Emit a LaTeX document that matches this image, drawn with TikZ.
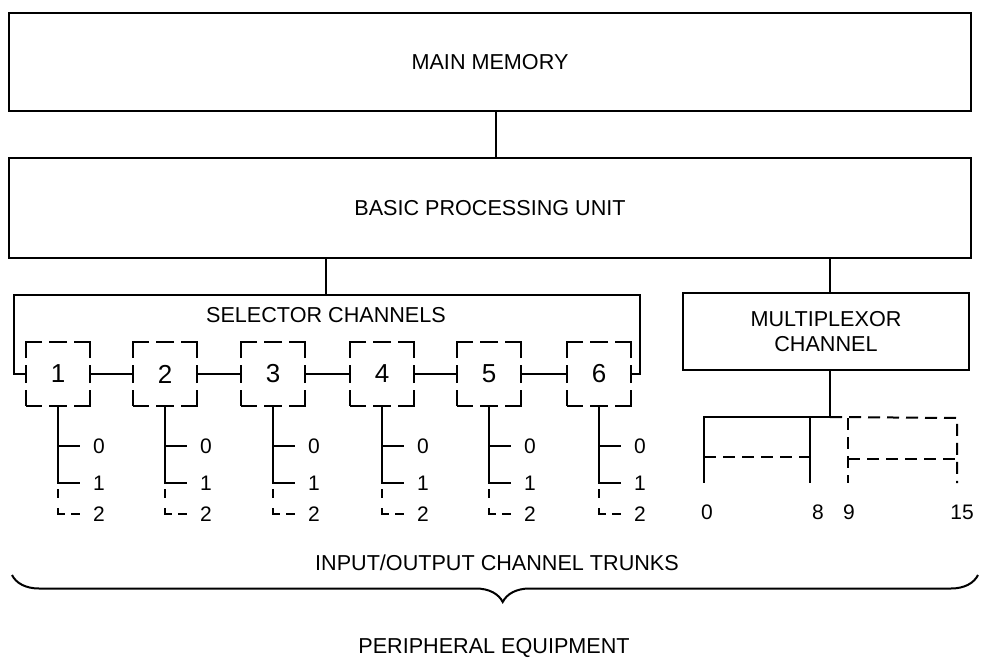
\documentclass[tikz,border=0pt]{standalone}
\usepackage{fontspec}
\setmainfont{Liberation Sans}
\usetikzlibrary{positioning,decorations.pathreplacing}

\tikzset{
  unitbox/.style={draw, line width=1.3pt, minimum width=481pt, font=\fontsize{10.8}{12.5}\selectfont},
  chanbox/.style={draw, line width=1.3pt, minimum size=32pt, inner sep=0pt,
    dash pattern=on 16pt off 3.5pt on 9pt off 3.5pt, dash phase=8pt,
    font=\fontsize{13}{14}\selectfont},
  trunk/.style={line width=1pt},
  dashtrunk/.style={line width=1pt, dash pattern=on 4.5pt off 5pt on 6.5pt off 3pt on 4.5pt off 10pt},
  mpxdash/.style={line width=1pt, dash pattern=on 6pt off 3.5pt},
  lbl/.style={font=\fontsize{10.8}{12.5}\selectfont},
  numlbl/.style={inner sep=0pt, font=\fontsize{10.5}{12}\selectfont}
}

\begin{document}
\begin{tikzpicture}[x=0.5pt, y=-0.5pt]
  \useasboundingbox (0,0) rectangle (981,664);

  % memory and processing unit
  \node[unitbox, minimum height=49pt] (mem) at (490,62) {MAIN MEMORY};
  \node[unitbox, minimum height=50pt] (bpu) at (490,208) {BASIC PROCESSING UNIT};
  \draw[trunk] ([xshift=3pt]mem.south) -- ([xshift=3pt]bpu.north);

  % selector channels
  \coordinate (selTL) at (14,295);
  \coordinate (selTR) at (640,295);
  \node[lbl] (selname) at (326,315) {SELECTOR CHANNELS};
  \foreach \i/\x in {1/58,2/165,3/273,4/382,5/489,6/599} {
    \node[chanbox] (sel\i) at (\x,374) {\i};
    \draw[trunk] (sel\i.south) -- ++(0,76) coordinate (end\i) -- ++(22,0)
      node[numlbl, right=6pt] {1};
    \draw[trunk] ([yshift=-19.5pt]sel\i.south) -- ++(22,0) node[numlbl, right=6pt] {0};
    \draw[dashtrunk] ([yshift=-3pt]end\i) -- ++(0,25) -- ++(22,0)
      node[numlbl, right=6pt] {2};
  }
  \foreach \i [evaluate=\i as \j using int(\i+1)] in {1,...,5}
    \draw[line width=1.3pt] (sel\i.east) -- (sel\j.west);
  \draw[line width=1.3pt] (sel1.west) -| (selTL) -- (selTR) |- (sel6.east);
  \draw[trunk] (bpu.south -| selname.center) -- (selTL -| selname.center);

  % multiplexor channel
  \node[unitbox, minimum width=143pt, minimum height=38.5pt, align=center] (mpx) at (826,331.5)
    {MULTIPLEXOR\\CHANNEL};
  \draw[trunk] ([xshift=2pt]bpu.south -| mpx.north) -- ([xshift=2pt]mpx.north);
  \coordinate (hub) at (830,417);
  \coordinate (m0) at (704,417);
  \coordinate (m8) at (810,417);
  \coordinate (m9) at (848,418);
  \coordinate (m15) at (957,418);
  \draw[trunk] ([xshift=2pt]mpx.south) -- (hub);
  \draw[trunk] (hub) -- (m0) -- ++(0,66) coordinate (b0);
  \draw[trunk] (m8) -- ++(0,66) coordinate (b8);
  \draw[mpxdash] ([yshift=-20pt]m0) -- ([yshift=-20pt]m8);
  \draw[mpxdash] (hub) -- (m15) -- ++(0,65) coordinate (b15);
  \draw[mpxdash] (m9) -- ++(0,65) coordinate (b9);
  \draw[mpxdash] ([yshift=-20.5pt]m9) -- ([yshift=-20.5pt]m15);
  \node[numlbl] at (707,512) {0};
  \node[numlbl] at (818,512) {8};
  \node[numlbl] at (849,512) {9};
  \node[numlbl] at (962,512) {15};

  % trunks and peripherals
  \node[lbl] (iotext) at (497,563) {INPUT/OUTPUT CHANNEL TRUNKS};
  \coordinate (braceL) at (12,575);
  \coordinate (braceR) at (978,575);
  \draw[trunk, decorate, decoration={brace, mirror, amplitude=13.5pt, aspect=0.508}]
    (braceL) -- (braceR);
  \node[lbl] (periph) at (494,648) {PERIPHERAL EQUIPMENT};
\end{tikzpicture}
\end{document}
